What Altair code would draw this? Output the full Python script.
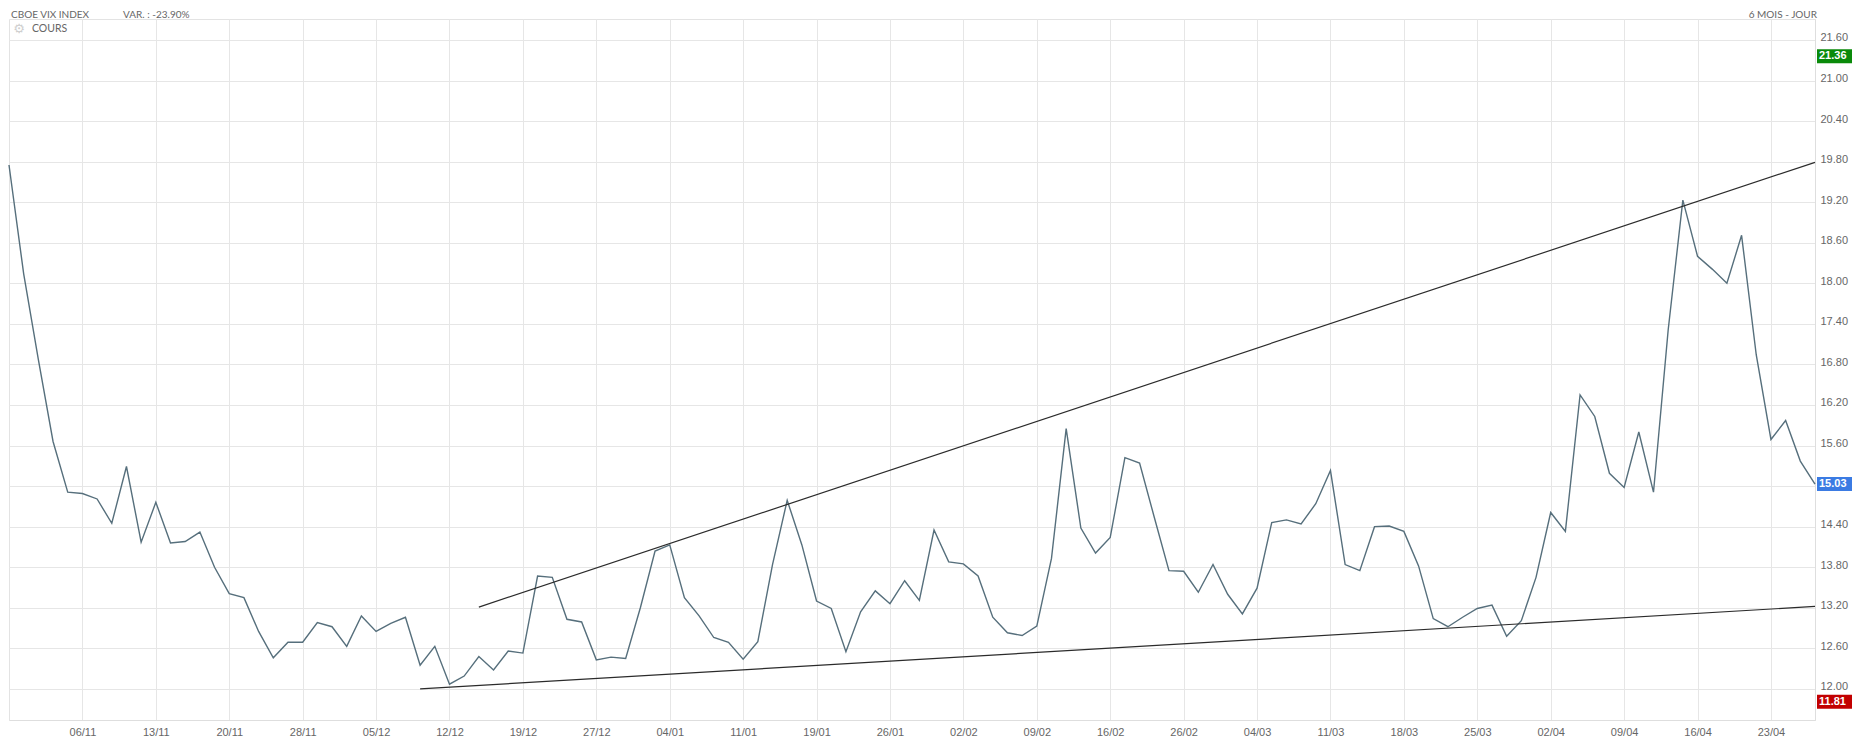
import altair as alt
import pandas as pd

# Trading days (dd/mm), 30/10 -> 26/04
dates = [
    "30/10", "31/10", "01/11", "02/11", "03/11", "06/11", "07/11", "08/11", "09/11", "10/11",
    "13/11", "14/11", "15/11", "16/11", "17/11", "20/11", "21/11", "22/11", "24/11", "27/11",
    "28/11", "29/11", "30/11", "01/12", "04/12", "05/12", "06/12", "07/12", "08/12", "11/12",
    "12/12", "13/12", "14/12", "15/12", "18/12", "19/12", "20/12", "21/12", "22/12", "26/12",
    "27/12", "28/12", "29/12", "02/01", "03/01", "04/01", "05/01", "08/01", "09/01", "10/01",
    "11/01", "12/01", "16/01", "17/01", "18/01", "19/01", "22/01", "23/01", "24/01", "25/01",
    "26/01", "29/01", "30/01", "31/01", "01/02", "02/02", "05/02", "06/02", "07/02", "08/02",
    "09/02", "12/02", "13/02", "14/02", "15/02", "16/02", "20/02", "21/02", "22/02", "23/02",
    "26/02", "27/02", "28/02", "29/02", "01/03", "04/03", "05/03", "06/03", "07/03", "08/03",
    "11/03", "12/03", "13/03", "14/03", "15/03", "18/03", "19/03", "20/03", "21/03", "22/03",
    "25/03", "26/03", "27/03", "28/03", "01/04", "02/04", "03/04", "04/04", "05/04", "08/04",
    "09/04", "10/04", "11/04", "12/04", "15/04", "16/04", "17/04", "18/04", "19/04", "22/04",
    "23/04", "24/04", "25/04", "26/04",
]
vix = [
    19.75, 18.14, 16.87, 15.66, 14.91, 14.89, 14.81, 14.45, 15.29, 14.17,
    14.76, 14.16, 14.18, 14.32, 13.80, 13.41, 13.35, 12.85, 12.46, 12.69,
    12.69, 12.98, 12.92, 12.63, 13.08, 12.85, 12.97, 13.06, 12.35, 12.63,
    12.07, 12.19, 12.48, 12.28, 12.56, 12.53, 13.67, 13.65, 13.03, 12.99,
    12.43, 12.47, 12.45, 13.20, 14.04, 14.13, 13.35, 13.08, 12.76, 12.69,
    12.44, 12.70, 13.84, 14.79, 14.13, 13.30, 13.19, 12.55, 13.14, 13.45,
    13.26, 13.60, 13.31, 14.35, 13.88, 13.85, 13.67, 13.06, 12.83, 12.79,
    12.93, 13.93, 15.85, 14.38, 14.01, 14.24, 15.42, 15.34, 14.54, 13.75,
    13.74, 13.43, 13.84, 13.40, 13.11, 13.49, 14.46, 14.50, 14.44, 14.74,
    15.23, 13.84, 13.75, 14.40, 14.41, 14.33, 13.82, 13.04, 12.92, 13.06,
    13.19, 13.24, 12.78, 13.01, 13.65, 14.61, 14.33, 16.35, 16.03, 15.19,
    14.98, 15.80, 14.91, 17.31, 19.23, 18.40, 18.21, 18.00, 18.71, 16.94,
    15.69, 15.97, 15.37, 15.03,
]

x_tick_idx = [5, 10, 15, 20, 25, 30, 35, 40, 45, 50, 55, 60, 65, 70, 75, 80,
              85, 90, 95, 100, 105, 110, 115, 120]
x_tick_labels = ["06/11", "13/11", "20/11", "28/11", "05/12", "12/12", "19/12", "27/12",
                 "04/01", "11/01", "19/01", "26/01", "02/02", "09/02", "16/02", "26/02",
                 "04/03", "11/03", "18/03", "25/03", "02/04", "09/04", "16/04", "23/04"]
y_ticks = [12.00, 12.60, 13.20, 13.80, 14.40, 15.00, 15.60, 16.20, 16.80, 17.40,
           18.00, 18.60, 19.20, 19.80, 20.40, 21.00, 21.60]

upper_idx = [32, 123]
upper_val = [13.21, 19.79]
lower_idx = [28, 123]
lower_val = [12.00, 13.22]

badge_vals = [21.36, 15.03, 11.81]
badge_colors = ["#0a8a0a", "#3b7be3", "#c20000"]

W, H = 1806, 701
Y_DOMAIN = [11.54, 21.91]
X_DOMAIN = [0, len(vix) - 1]

df = pd.DataFrame({"i": list(range(len(vix))), "date": dates, "v": vix})
trend = pd.DataFrame({
    "i": upper_idx + lower_idx,
    "v": upper_val + lower_val,
    "g": ["up", "up", "low", "low"],
})
half = 7 / (H / (Y_DOMAIN[1] - Y_DOMAIN[0]))
badges = pd.DataFrame({
    "v": badge_vals,
    "lo": [b - half for b in badge_vals],
    "hi": [b + half for b in badge_vals],
    "c": badge_colors,
    "t": [f"{b:.2f}" for b in badge_vals],
})

xs = alt.Scale(domain=X_DOMAIN, nice=False, zero=False)
ys = alt.Scale(domain=Y_DOMAIN, nice=False, zero=False)

label_arr = "[" + ",".join(f"'{l}'" for l in x_tick_labels) + "]"

x_axis = alt.Axis(
    values=x_tick_idx, labelExpr=f"{label_arr}[round(datum.value/5)-1]",
    title=None, grid=True, ticks=False, domain=True, domainColor="#dedede",
    labelPadding=6, labelBaseline="top", gridColor="#e6e6e6")
y_axis = alt.Axis(
    orient="right", values=y_ticks, format=".2f", title=None, grid=True,
    ticks=False, domain=True, domainColor="#dedede", labelPadding=5,
    labelOffset=-2, gridColor="#e6e6e6")

main = alt.Chart(df).mark_line(color="#566f7c", strokeWidth=1.4).encode(
    x=alt.X("i:Q", scale=xs, axis=x_axis),
    y=alt.Y("v:Q", scale=ys, axis=y_axis),
)

trend_layer = alt.Chart(trend).mark_line(color="#2b2b2b", strokeWidth=1.2).encode(
    x=alt.X("i:Q", scale=xs, axis=x_axis),
    y=alt.Y("v:Q", scale=ys, axis=y_axis),
    detail="g:N",
)

badge_rect = alt.Chart(badges).mark_rect().encode(
    x=alt.value(W + 2), x2=alt.value(W + 50),
    y=alt.Y("lo:Q", scale=ys, axis=y_axis), y2="hi:Q",
    color=alt.Color("c:N", scale=None),
)
badge_text = alt.Chart(badges).mark_text(
    align="left", baseline="middle", color="white", fontWeight="bold",
    font="Liberation Sans", fontSize=11,
).encode(
    x=alt.value(W + 4), y=alt.Y("v:Q", scale=ys, axis=y_axis), text="t:N",
)

HDR_Y = -9
hdr_font = dict(baseline="top", font="Lato", fontSize=10, color="#666")
title_l = alt.Chart(pd.DataFrame({"t": ["CBOE VIX INDEX"]})).mark_text(
    align="left", **hdr_font).encode(x=alt.value(2), y=alt.value(HDR_Y), text="t:N")
var_l = alt.Chart(pd.DataFrame({"t": ["VAR. : -23.90%"]})).mark_text(
    align="left", **hdr_font).encode(x=alt.value(114), y=alt.value(HDR_Y), text="t:N")
period_l = alt.Chart(pd.DataFrame({"t": ["6 MOIS - JOUR"]})).mark_text(
    align="right", **hdr_font).encode(x=alt.value(W + 2), y=alt.value(HDR_Y), text="t:N")
gear = alt.Chart(pd.DataFrame({"t": ["\u2699"]})).mark_text(
    align="center", baseline="middle", font="DejaVu Sans", fontSize=13, color="#cfcfcf",
).encode(x=alt.value(10), y=alt.value(10), text="t:N")
cours = alt.Chart(pd.DataFrame({"t": ["COURS"]})).mark_text(
    align="left", baseline="middle", font="Lato", fontSize=10.5, color="#666",
).encode(x=alt.value(23), y=alt.value(10), text="t:N")

chart = alt.layer(
    main, trend_layer, badge_rect, badge_text, title_l, var_l, period_l, gear, cours
).properties(
    width=W, height=H,
    autosize=alt.AutoSizeParams(type="none"),
    padding={"left": 1, "top": 11, "right": 37, "bottom": 16},
).configure_view(
    stroke="#e3e3e3", strokeWidth=1,
).configure_axis(
    labelFont="Liberation Sans", labelFontSize=11, labelColor="#666",
)

chart.save("out.html", embed_options={"renderer": "svg", "actions": False})
